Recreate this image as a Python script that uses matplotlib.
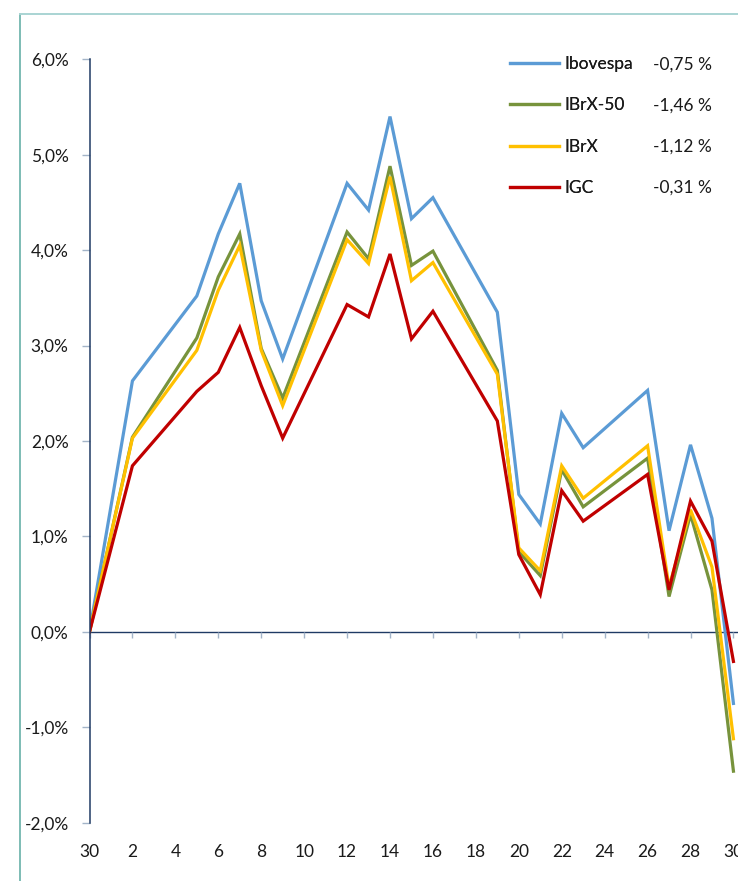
import matplotlib
matplotlib.use("Agg")
import matplotlib.pyplot as plt
from matplotlib.lines import Line2D
from matplotlib.legend import Legend
import matplotlib.ticker as mticker

plt.rcParams['font.family'] = ['Lato', 'DejaVu Sans']

# ---- data ----
days = [0, 2, 5, 6, 7, 8, 9, 12, 13, 14, 15, 16, 19, 20, 21, 22, 23, 26, 27, 28, 29, 30]
x_tick_pos = list(range(0, 31, 2))
x_tick_labels = ["30", "2", "4", "6", "8", "10", "12", "14", "16", "18",
                 "20", "22", "24", "26", "28", "30"]
y_ticks = [-2, -1, 0, 1, 2, 3, 4, 5, 6]

names = ["Ibovespa", "IBrX-50", "IBrX", "IGC"]
ibovespa = [0, 2.63, 3.52, 4.17, 4.70, 3.47, 2.86, 4.70, 4.42, 5.40, 4.33, 4.55,
            3.35, 1.44, 1.13, 2.29, 1.93, 2.53, 1.06, 1.96, 1.19, -0.75]
ibrx50 = [0, 2.04, 3.08, 3.72, 4.17, 2.97, 2.45, 4.19, 3.91, 4.88, 3.84, 3.99,
          2.74, 0.84, 0.59, 1.70, 1.31, 1.82, 0.37, 1.23, 0.44, -1.46]
ibrx = [0, 2.03, 2.95, 3.58, 4.05, 2.95, 2.37, 4.11, 3.86, 4.77, 3.68, 3.87,
        2.70, 0.88, 0.64, 1.74, 1.40, 1.95, 0.47, 1.28, 0.68, -1.12]
igc = [0, 1.74, 2.52, 2.72, 3.19, 2.58, 2.03, 3.43, 3.30, 3.96, 3.07, 3.36,
       2.21, 0.81, 0.39, 1.48, 1.16, 1.65, 0.44, 1.37, 0.95, -0.31]
series = [ibovespa, ibrx50, ibrx, igc]
colors = ["#5b9bd5", "#77933c", "#ffc000", "#c00000"]

W, H = 738, 881
fig = plt.figure(figsize=(W / 100, H / 100), dpi=100)
left, right = 89.5, 754.9   # axis spans day 0..31
top, bottom = 59.3, 822.7
ax = fig.add_axes([left / W, 1 - bottom / H, (right - left) / W, (bottom - top) / H])

for s, c, n in zip(series, colors, names):
    ax.plot(days, s, color=c, lw=2.3, label=n, solid_joinstyle='miter')

ax.set_xlim(0, 31)
ax.set_ylim(-2, 6)

navy = "#1f3a64"
tickc = "#a3b4c8"
ax.spines['top'].set_visible(False)
ax.spines['right'].set_visible(False)
ax.spines['left'].set_color(navy)
ax.spines['left'].set_linewidth(1.1)
ax.spines['bottom'].set_position(('data', 0))
ax.spines['bottom'].set_color(navy)
ax.spines['bottom'].set_linewidth(1.0)
ax.spines['bottom'].set_zorder(0.5)

fs = 12.5
ax.set_yticks(y_ticks)
ax.yaxis.set_major_formatter(mticker.FuncFormatter(
    lambda v, p: f"{v:.1f}".replace('.', ',').replace('\u2212', '-') + "%"))
ax.tick_params(axis='y', direction='out', length=6, width=1, color=tickc,
               pad=9, labelsize=fs, labelcolor='#1a1a1a')

ax.set_xticks(x_tick_pos)
ax.tick_params(axis='x', direction='out', length=4.5, width=1, color=tickc,
               labelbottom=False)

sec = ax.secondary_xaxis('bottom')
sec.spines['bottom'].set_visible(False)
sec.set_xticks(x_tick_pos, labels=x_tick_labels)
sec.tick_params(axis='x', length=0, pad=15, labelsize=fs, labelcolor='#1a1a1a')

# legend: names
handles = [Line2D([], [], color=c, lw=2.3) for c in colors]
leg_top = 1 - 56.3 / H
leg1 = ax.legend(handles, names, loc='upper left',
                 bbox_to_anchor=(510 / W, leg_top), bbox_transform=fig.transFigure,
                 frameon=False, borderpad=0, borderaxespad=0, handlelength=2.85,
                 handletextpad=0.3, labelspacing=1.45, fontsize=fs)
for t in leg1.get_texts():
    t.set_color('#1a1a1a')
ax.add_artist(leg1)

# legend: final values
vals = [f"{s[-1]:.2f}".replace('.', ',') + " %" for s in series]
blank = [Line2D([], [], color='none') for _ in series]
leg2 = Legend(ax, blank, vals, loc='upper left',
              bbox_to_anchor=(653 / W, leg_top), bbox_transform=fig.transFigure,
              frameon=False, borderpad=0, borderaxespad=0, handlelength=0,
              handletextpad=0, labelspacing=1.45, fontsize=fs)
for t in leg2.get_texts():
    t.set_color('#1a1a1a')
ax.add_artist(leg2)

# outer frame lines
fig.add_artist(Line2D([20 / W, 20 / W], [0, 1 - 14 / H], transform=fig.transFigure,
                      color="#5aa9a1", lw=1.1))
fig.add_artist(Line2D([20 / W, 1], [1 - 14 / H, 1 - 14 / H], transform=fig.transFigure,
                      color="#a9d4d3", lw=1.4))

fig.savefig("out.png", dpi=100)
